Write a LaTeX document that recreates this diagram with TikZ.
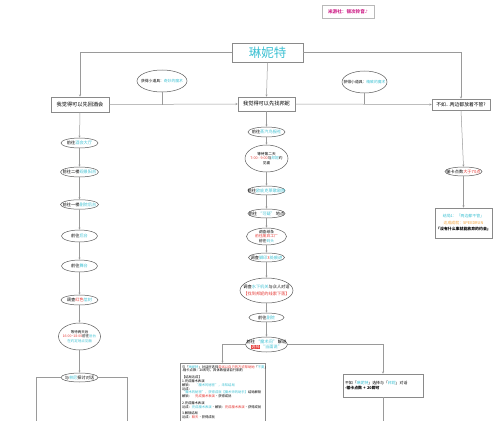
\documentclass[tikz,border=0pt]{standalone}
\usepackage{fontspec}
\setmainfont{Noto Sans CJK SC}
\newfontfamily\djv{DejaVu Sans}
\usetikzlibrary{shapes.geometric,arrows.meta}
\definecolor{tealc}{HTML}{3EC1D3}
\definecolor{redc}{HTML}{E53935}
\definecolor{orgc}{HTML}{F2A33A}
\definecolor{magc}{HTML}{D0288C}
\definecolor{linec}{HTML}{9A9A9A}
\definecolor{bordc}{HTML}{8A8A8A}
\newcommand\ct[1]{\textcolor{tealc}{#1}}
\newcommand\cred[1]{\textcolor{redc}{#1}}
\newcommand\corg[1]{\textcolor{orgc}{#1}}
\newcommand\redbg[1]{{\setlength\fboxsep{0.4pt}\colorbox{redc}{\color{white}#1}}}
\newcommand\fsz[2]{\fontsize{#1}{#2}\selectfont}
\tikzset{
  conn/.style={draw=linec, line width=0.5pt},
  arr/.style={conn, -{Stealth[length=2.2pt,width=2pt]}},
  ell/.style={ellipse, draw=black!65, fill=white, line width=0.5pt, inner sep=-20pt,
    minimum width=37pt, minimum height=10pt, align=center, font=\fsz{4.2}{5.2}},
  bbox/.style={rectangle, draw=bordc, fill=white, line width=0.6pt, inner sep=1pt,
    align=center, font=\fsz{5.2}{6}},
}
\begin{document}
\begin{tikzpicture}[x=1pt,y=-1pt]
\useasboundingbox (0,0) rectangle (500,420);
\fill[white] (0,0) rectangle (500,420);
\clip (0,0) rectangle (500,420);

% signature
\node[bbox, draw=gray!55, line width=0.9pt, minimum width=52pt, minimum height=13pt,
  font=\fsz{4.6}{5}\bfseries\color{magc}] (sig) at (348,11.5) {米游社：银次铃音{\djv ♪}};

% title
\node[bbox, minimum width=71pt, minimum height=19pt, font=\fsz{12.5}{13}\color{tealc}] (title) at (267.5,52.5) {琳妮特};

% branch boxes
\node[bbox, minimum width=58pt, minimum height=15pt] (L) at (80,104.5) {我觉得可以先回酒会};
\node[bbox, minimum width=57pt, minimum height=14pt] (C) at (266.5,104) {我觉得可以先找邦妮};
\node[bbox, minimum width=58pt, minimum height=11pt, font=\fsz{4.8}{5.5}] (R) at (461,104.5) {不如...两边都放着不管?};

\draw[arr] (title.west) -| (L.north);
\draw[arr] (title.east) -| (R.north);
\draw[arr] (title.south) -- (C.north);
\draw[arr] (L.east) -- (C.west);
\draw[arr] (C.east) -- (R.west);

% hanging ellipses
\node[ell, minimum width=50pt, minimum height=22pt, font=\fsz{3.8}{4.5}] (h1) at (162,81) {获得小道具：\ct{奇妙的魔术}};
\node[ell, minimum width=45pt, minimum height=22pt, font=\fsz{3.8}{4.5}] (h2) at (364.5,82) {获得小道具：\ct{精致的魔术}};
\draw[conn] (h1.south) -- (h1.south |- L.east);
\draw[conn] (h2.south) -- (h2.south |- C.east);

% left column
\node[ell] (l1) at (79.5,143) {前往\ct{酒会大厅}};
\node[ell, minimum width=38pt] (l2) at (79.5,172) {前往二楼\ct{观景阳台}};
\node[ell, minimum width=38pt, minimum height=9.5pt] (l3) at (79.5,204.5) {前往一楼\ct{剧院后台}};
\node[ell, minimum width=36pt, minimum height=12pt] (l4) at (79.5,236) {前往\ct{后台}};
\node[ell, minimum width=36pt, minimum height=12pt] (l5) at (79.5,266) {前往\ct{舞台}};
\node[ell] (l6) at (79.5,300) {调查\cred{红色}\ct{信封}};
\node[ell, minimum width=42pt, minimum height=27pt, font=\fsz{3.5}{4.8}] (l7) at (79.5,336.5) {等待两天后\\\cred{16:00\textasciitilde18:00}前往\ct{后台}\\\ct{在约定地点见面}};
\node[ell, minimum height=9pt] (l8) at (79.5,377.5) {与\ct{林尼}探讨对话};
\draw[arr] (L.south) -- (l1.north);
\draw[arr] (l1.south) -- (l2.north);
\draw[arr] (l2.south) -- (l3.north);
\draw[arr] (l3.south) -- (l4.north);
\draw[arr] (l4.south) -- (l5.north);
\draw[arr] (l5.south) -- (l6.north);
\draw[arr] (l6.south) -- (l7.north);
\draw[arr] (l7.south) -- (l8.north);
\coordinate (lb1) at (36,430);
\coordinate (lb2) at (127,430);
\draw[conn] (l8.west) -| (lb1);
\draw[conn] (l8.east) -| (lb2);

% center column
\node[ell] (c1) at (266.5,132) {前往\ct{蒸汽鸟报社}};
\node[ell, minimum width=43pt, minimum height=27pt, font=\fsz{3.7}{4.8}] (c2) at (266.5,158.5) {等待第二天\\\cred{7:00 - 9:00}与\ct{邦妮}约\\见面};
\node[ell, minimum height=9pt] (c3) at (266.5,190.5) {前往\ct{欧庇克莱歌剧院}};
\node[ell, minimum height=9pt] (c4) at (266.5,213.5) {前往 \ct{“可疑”} 地点};
\node[ell, minimum width=40pt, minimum height=17pt, font=\fsz{3.8}{4.6}] (c5) at (266.5,236.5) {调查纸条\\\cred{前往废弃工厂}\\前往\ct{码头}};
\node[ell, minimum width=36pt, minimum height=9pt] (c6) at (266.5,257.5) {调查\ct{脚印}\cred{3}\ct{处痕迹}};
\node[ell, minimum width=53pt, minimum height=25pt] (c7) at (266.5,290.5) {调查\ct{水下机关}与众人对话\\[2pt]\cred{【找到邦妮的线索下落】}};
\node[ell, minimum width=35pt, minimum height=9pt] (c8) at (266.5,317.5) {前往\ct{剧院}};
\node[ell, minimum width=42pt, minimum height=15pt] (c9) at (266.5,344.5) {前往 \ct{“魔术间”} 解谜\\\redbg{选择}\,\ct{“当面说”}};
\draw[arr] (C.south) -- (c1.north);
\draw[arr] (c1.south) -- (c2.north);
\draw[arr] (c2.south) -- (c3.north);
\draw[arr] (c3.south) -- (c4.north);
\draw[arr] (c4.south) -- (c5.north);
\draw[arr] (c5.south) -- (c6.north);
\draw[arr] (c6.south) -- (c7.north);
\draw[arr] (c7.south) -- (c8.north);
\draw[arr] (c8.south) -- (c9.north);

% bottom boxes
\node[bbox, anchor=north, text width=81pt, align=left, inner sep=2pt, font=\fsz{3.3}{3.9}] (bc) at (222.5,363)
{与「\ct{琳妮特}」对话时选择\cred{尝试以自己的方式帮助她}「\ct{不要}」\\
-输卡点数：20即可，具体数值请自行斟酌\\[2.5pt]
【结局达成】\\
1.完成魔术表演\\
解锁：\quad\ct{“魔术的秘密”，未知结局}\\
达成：\quad\ct{“魔术的秘密”，获得成就【魔术师的助手】}结局解锁\\
解锁：\quad\cred{完成魔术表演}·获得成就\\[2.5pt]
2.完成魔术表演\\
达成：\ct{完成魔术表演}·解锁：\cred{完成魔术表演}·获得成就\\[2.5pt]
3.解锁结局\\
达成：\cred{聊天}·获得成就\\[16pt]\mbox{}};
\node[bbox, text width=76pt, align=left, inner sep=2pt, minimum height=23pt, font=\fsz{3.9}{5}] (br) at (383,385.5)
{不如「\ct{琳妮特}」选择与「\ct{邦妮}」对话\\\textbf{-输卡点数 + 20即可}};
\draw[arr] (c9.west) -| (bc.north);
\draw[arr] (c9.east) -| (br.north);
\coordinate (brb) at (383,430);
\draw[conn] (br.south) -- (brb);

% right column
\node[ell, minimum height=9pt] (re) at (463.5,171.5) {输卡点数\cred{大于70点}};
\node[bbox, minimum width=57pt, minimum height=30pt, font=\fsz{3.9}{6.5}] (rb) at (463.5,223)
{\ct{结局1：「两边都不管」}\\\corg{达成成就：SPEEDRUN}\\\textbf{「没有什么事就能放弃的约会」}};
\draw[arr] (R.south) -- (re.north);
\draw[arr] (re.south) -- (rb.north);
\end{tikzpicture}
\end{document}
